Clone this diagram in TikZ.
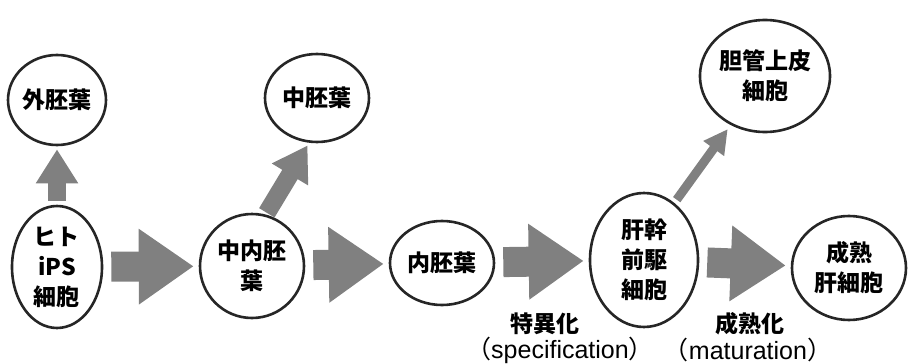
\documentclass[tikz,border=0pt]{standalone}
\usepackage{fontspec}
\setmainfont{Noto Sans CJK JP}
\newfontfamily\latinfont{Liberation Sans}
\usetikzlibrary{shapes.geometric,arrows.meta}
\begin{document}
\begin{tikzpicture}[x=1pt,y=-1pt,
  cell/.style={ellipse,draw=black!85,line width=2.6pt,inner sep=0pt,
    align=center,font=\fontsize{23}{30}\selectfont\bfseries},
  bigarrow/.style={color=black!50,line width=30pt,
    -{Triangle[width=72pt,length=55pt]},shorten <=8pt,shorten >=5pt},
  midarrow/.style={color=black!50,line width=18pt,
    -{Triangle[width=40pt,length=34pt]}},
  thinarrow/.style={color=black!50,line width=9pt,
    -{Triangle[width=24pt,length=24pt]}},
  caption/.style={align=center,font=\fontsize{23}{28}\selectfont\bfseries},
  latin/.style={font=\fontsize{25}{28}\selectfont\latinfont}]
\useasboundingbox (0,0) rectangle (911,364);

% cells
\node[cell,minimum width=98pt,minimum height=90pt] (ecto) at (57,100) {外胚葉};
\node[cell,minimum width=90pt,minimum height=122pt] (ips) at (57,267) {ヒト\\iPS\\細胞};
\node[cell,minimum width=104pt,minimum height=104pt] (mesendo) at (252,266) {中内胚\\葉};
\node[cell,minimum width=104pt,minimum height=88pt] (meso) at (317,98) {中胚葉};
\node[cell,minimum width=104pt,minimum height=84pt] (endo) at (442,263) {内胚葉};
\node[cell,minimum width=108pt,minimum height=134pt] (hepb) at (644,260) {肝幹\\前駆\\細胞};
\node[cell,minimum width=110pt,minimum height=112pt] (chol) at (765,76) {胆管上皮\\細胞};
\node[cell,minimum width=114pt,minimum height=104pt] (hep) at (849,268) {成熟\\肝細胞};

% differentiation arrows
\draw[midarrow,shorten <=4pt,shorten >=3pt] (ips) -- (ecto);
\draw[bigarrow] (ips) -- (mesendo);
\draw[midarrow,shorten <=2pt,shorten >=3pt] (mesendo.75) -- (meso.260);
\draw[bigarrow] (mesendo) -- (endo);
\draw[bigarrow] (endo) -- (hepb);
\draw[thinarrow,shorten <=4pt,shorten >=5pt] (hepb.62) -- (chol.235);
\draw[bigarrow] (hepb) -- (hep);

% stage labels
\node[caption] (spec) at (545,324) {特異化};
\node[latin] (specen) at (560,350) {\mdseries\fontspec{Noto Sans CJK JP}（{\latinfont specification}）};
\node[caption] (matu) at (750,324) {成熟化};
\node[latin] (matuen) at (748,350) {\mdseries\fontspec{Noto Sans CJK JP}（{\latinfont maturation}）};
\end{tikzpicture}
\end{document}
